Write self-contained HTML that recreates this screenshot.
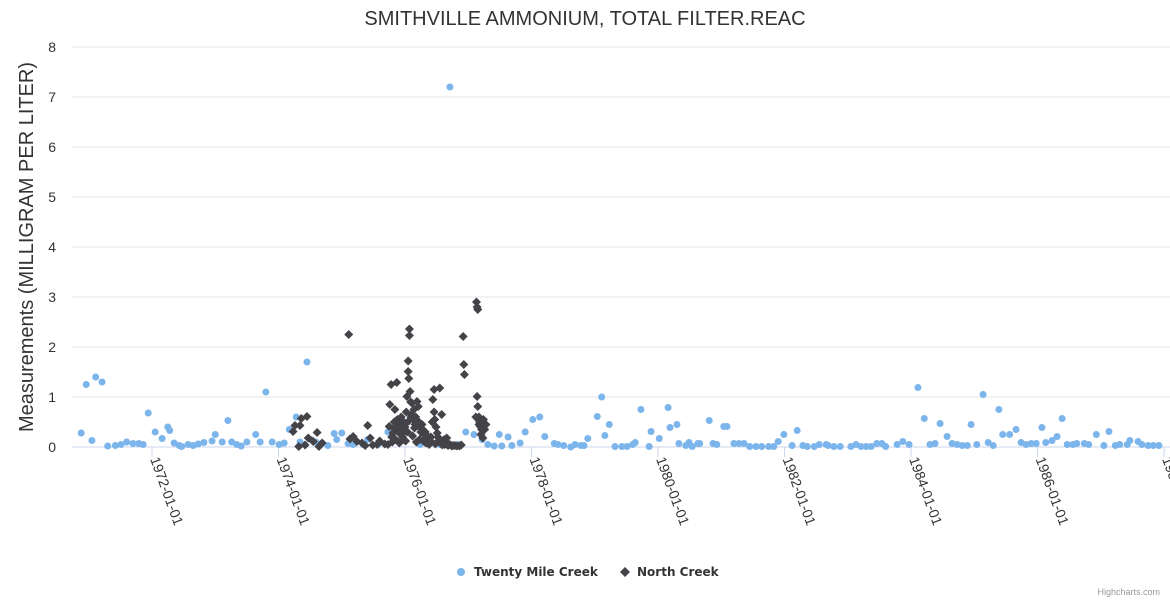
<!DOCTYPE html>
<html><head><meta charset="utf-8"><style>
html,body{margin:0;padding:0;background:#fff;}
svg{display:block;font-family:"Liberation Sans",sans-serif;}
</style></head><body>
<svg id="chart" width="1170" height="600" xmlns="http://www.w3.org/2000/svg">
<text x="585" y="25" text-anchor="middle" font-size="20" fill="#333">SMITHVILLE AMMONIUM, TOTAL FILTER.REAC</text>
<text transform="translate(33,247) rotate(-90)" text-anchor="middle" font-size="20" fill="#333">Measurements (MILLIGRAM PER LITER)</text>
<g id="grid"></g>
<g id="xaxis"></g>
<g id="s1"></g>
<g id="s2"></g>
<g>
<g>
<circle cx="461" cy="572" r="4" fill="#7cb5ec"/>
<text x="474" y="576" font-size="12" font-weight="bold" fill="#333" font-family="DejaVu Sans, sans-serif">Twenty Mile Creek</text></g>
<g>
<path d="M625 567 L630 572 L625 577 L620 572 Z" fill="#434348"/>
<text x="637" y="576" font-size="12" font-weight="bold" fill="#333" font-family="DejaVu Sans, sans-serif">North Creek</text></g>
</g>
<text x="1160" y="595" text-anchor="end" font-size="9" fill="#999">Highcharts.com</text>
</svg>
<script>
const yTicks=[0,1,2,3,4,5,6,7,8];
const xTickYears=[1972,1974,1976,1978,1980,1982,1984,1986,1988];
const xTickLabels=["1972-01-01","1974-01-01","1976-01-01","1978-01-01","1980-01-01","1982-01-01","1984-01-01","1986-01-01","1988-01-01"];
const twentyDates=[1970.88,1970.96,1971.05,1971.11,1971.21,1971.30,1971.42,1971.51,1971.60,1971.70,1971.79,1971.86,1971.94,1972.05,1972.16,1972.25,1972.28,1972.35,1972.43,1972.47,1972.57,1972.65,1972.73,1972.82,1972.95,1973.00,1973.11,1973.20,1973.26,1973.34,1973.41,1973.50,1973.64,1973.71,1973.80,1973.90,1974.01,1974.09,1974.17,1974.28,1974.34,1974.45,1974.51,1974.59,1974.69,1974.78,1974.88,1974.92,1975.00,1975.10,1975.18,1975.34,1975.41,1975.57,1975.73,1975.97,1976.08,1976.24,1976.55,1976.71,1976.84,1976.96,1977.09,1977.22,1977.31,1977.41,1977.49,1977.53,1977.63,1977.69,1977.82,1977.90,1978.02,1978.13,1978.21,1978.36,1978.42,1978.51,1978.62,1978.69,1978.78,1978.83,1978.89,1979.04,1979.11,1979.16,1979.23,1979.32,1979.43,1979.51,1979.60,1979.64,1979.73,1979.86,1979.89,1980.02,1980.16,1980.19,1980.30,1980.33,1980.44,1980.49,1980.54,1980.63,1980.66,1980.81,1980.87,1980.93,1981.04,1981.09,1981.20,1981.28,1981.36,1981.45,1981.55,1981.64,1981.75,1981.83,1981.90,1981.99,1982.12,1982.20,1982.29,1982.36,1982.47,1982.55,1982.66,1982.69,1982.78,1982.88,1983.05,1983.13,1983.21,1983.29,1983.37,1983.46,1983.54,1983.60,1983.78,1983.87,1983.97,1984.11,1984.21,1984.30,1984.38,1984.46,1984.57,1984.65,1984.73,1984.81,1984.89,1984.95,1985.04,1985.14,1985.22,1985.30,1985.39,1985.45,1985.56,1985.66,1985.74,1985.82,1985.90,1985.98,1986.07,1986.13,1986.23,1986.31,1986.39,1986.47,1986.56,1986.62,1986.74,1986.81,1986.93,1987.05,1987.13,1987.23,1987.30,1987.42,1987.46,1987.59,1987.65,1987.75,1987.83,1987.92];
const twentyValues=[0.28,1.25,0.13,1.4,1.3,0.02,0.03,0.05,0.1,0.07,0.07,0.05,0.68,0.3,0.17,0.4,0.33,0.08,0.03,0.01,0.05,0.03,0.06,0.09,0.12,0.25,0.1,0.53,0.1,0.05,0.02,0.1,0.25,0.1,1.1,0.1,0.05,0.08,0.35,0.6,0.1,1.7,0.15,0.1,0.08,0.03,0.27,0.15,0.28,0.07,0.05,0.05,0.15,0.05,0.3,0.4,0.6,0.05,0.05,7.2,0.05,0.3,0.25,0.15,0.05,0.02,0.25,0.02,0.2,0.03,0.08,0.3,0.55,0.6,0.21,0.07,0.05,0.03,0.0,0.05,0.03,0.03,0.17,0.61,1.0,0.23,0.45,0.01,0.01,0.01,0.05,0.09,0.75,0.01,0.31,0.17,0.79,0.39,0.45,0.07,0.03,0.09,0.01,0.07,0.07,0.53,0.07,0.05,0.41,0.41,0.07,0.07,0.07,0.01,0.01,0.01,0.01,0.01,0.11,0.25,0.03,0.33,0.03,0.01,0.01,0.05,0.05,0.03,0.01,0.01,0.01,0.05,0.01,0.01,0.01,0.07,0.07,0.01,0.05,0.11,0.05,1.19,0.57,0.05,0.07,0.47,0.21,0.07,0.05,0.03,0.03,0.45,0.05,1.05,0.09,0.03,0.75,0.25,0.25,0.35,0.09,0.05,0.07,0.07,0.39,0.09,0.13,0.21,0.57,0.05,0.05,0.07,0.07,0.05,0.25,0.03,0.31,0.03,0.05,0.05,0.13,0.11,0.05,0.03,0.03,0.03];
const northDates=[1974.23,1974.26,1974.32,1974.34,1974.36,1974.42,1974.45,1974.47,1974.55,1974.61,1974.64,1974.69,1975.11,1975.13,1975.18,1975.24,1975.32,1975.37,1975.41,1975.45,1975.49,1975.56,1975.60,1975.68,1975.73,1975.75,1975.76,1975.78,1975.79,1975.81,1975.83,1975.84,1975.86,1975.87,1975.88,1975.89,1975.90,1975.92,1975.94,1975.95,1975.97,1975.98,1976.00,1976.02,1976.03,1976.05,1976.05,1976.06,1976.07,1976.07,1976.08,1976.09,1976.10,1976.11,1976.13,1976.14,1976.16,1976.17,1976.19,1976.21,1976.22,1976.24,1976.25,1976.27,1976.28,1976.30,1976.32,1976.35,1976.36,1976.40,1976.41,1976.43,1976.44,1976.46,1976.46,1976.47,1976.49,1976.51,1976.52,1976.55,1976.57,1976.58,1976.60,1976.62,1976.63,1976.66,1976.68,1976.71,1976.74,1976.79,1976.82,1976.92,1976.93,1976.94,1977.12,1977.13,1977.14,1977.15,1977.14,1977.15,1977.16,1977.17,1977.18,1977.19,1977.21,1977.22,1977.23,1977.26,1977.28,1975.80,1975.85,1975.91,1975.96,1976.01,1976.04,1976.12,1976.18,1976.23,1976.29,1976.33,1976.38,1976.42,1976.48,1976.53,1976.59,1976.64,1976.69,1976.76,1976.86,1976.89,1977.20,1975.82,1975.87,1975.93,1975.99,1976.06,1976.10,1976.15,1976.20,1976.26,1976.31,1976.37,1977.17,1977.24];
const northValues=[0.31,0.43,0.01,0.43,0.57,0.04,0.61,0.18,0.11,0.29,0.01,0.08,2.25,0.16,0.21,0.11,0.08,0.03,0.43,0.18,0.04,0.05,0.12,0.06,0.05,0.41,0.85,1.25,0.2,0.28,0.5,0.75,0.35,1.29,0.55,0.3,0.45,0.35,0.6,0.25,0.15,0.5,0.4,0.7,1.01,1.72,1.51,1.37,2.23,2.36,1.11,0.9,0.65,0.88,0.55,0.75,0.45,0.6,0.91,0.81,0.5,0.41,0.3,0.45,0.35,0.25,0.3,0.21,0.15,0.08,0.2,0.5,0.95,1.15,0.7,0.55,0.4,0.28,0.2,1.18,0.1,0.65,0.08,0.15,0.05,0.18,0.03,0.05,0.02,0.03,0.02,2.21,1.65,1.45,0.6,2.9,2.8,2.75,1.01,0.81,0.55,0.45,0.5,0.41,0.35,0.4,0.18,0.35,0.45,0.1,0.15,0.08,0.2,0.12,0.3,0.22,0.1,0.15,0.12,0.08,0.05,0.1,0.06,0.12,0.04,0.07,0.05,0.03,0.02,0.04,0.25,0.38,0.42,0.33,0.45,0.52,0.6,0.38,0.48,0.36,0.28,0.2,0.6,0.55];

const NS="http://www.w3.org/2000/svg";
const L=72,R=1170,T=47,B=447;
function xs(y){return 152+(y-1972)*63.25;}
function ys(v){return B-(v/8)*(B-T);}
function mk(tag,attrs,parent){const e=document.createElementNS(NS,tag);for(const k in attrs)e.setAttribute(k,attrs[k]);parent.appendChild(e);return e;}
const grid=document.getElementById('grid');
yTicks.forEach(t=>{
  const l=mk('line',{x1:L,x2:R,y1:ys(t),y2:ys(t),stroke:t===0?'#ccd6eb':'#e6e6e6','stroke-width':1},grid);
  
  
  const tx=mk('text',{x:56,y:ys(t)+5,'text-anchor':'end','font-size':14,fill:'#333'},grid);
  tx.textContent=t;
  
  
});
const xa=document.getElementById('xaxis');
xTickYears.forEach((yr,i)=>{
  const x=xs(yr);
  const tk=mk('line',{x1:x,x2:x,y1:B,y2:B+10,stroke:'#ccd6eb'},xa);
  
  
  const tx=mk('text',{transform:`translate(${x-2},${B+12}) rotate(70)`,'font-size':14,fill:'#333'},xa);
  tx.textContent=xTickLabels[i];
  
  
});
const s1=document.getElementById('s1');
twentyDates.forEach((d,i)=>{
  const c=mk('circle',{cx:xs(d),cy:ys(twentyValues[i]),r:3.5,fill:'#7cb5ec'},s1);
  
  
});
const s2=document.getElementById('s2');
northDates.forEach((d,i)=>{
  const x=xs(d),y=ys(northValues[i]);
  const p=mk('path',{d:`M${x} ${y-4.5}L${x+4.5} ${y}L${x} ${y+4.5}L${x-4.5} ${y}Z`,fill:'#434348'},s2);
  
  
});
</script>
</body></html>
